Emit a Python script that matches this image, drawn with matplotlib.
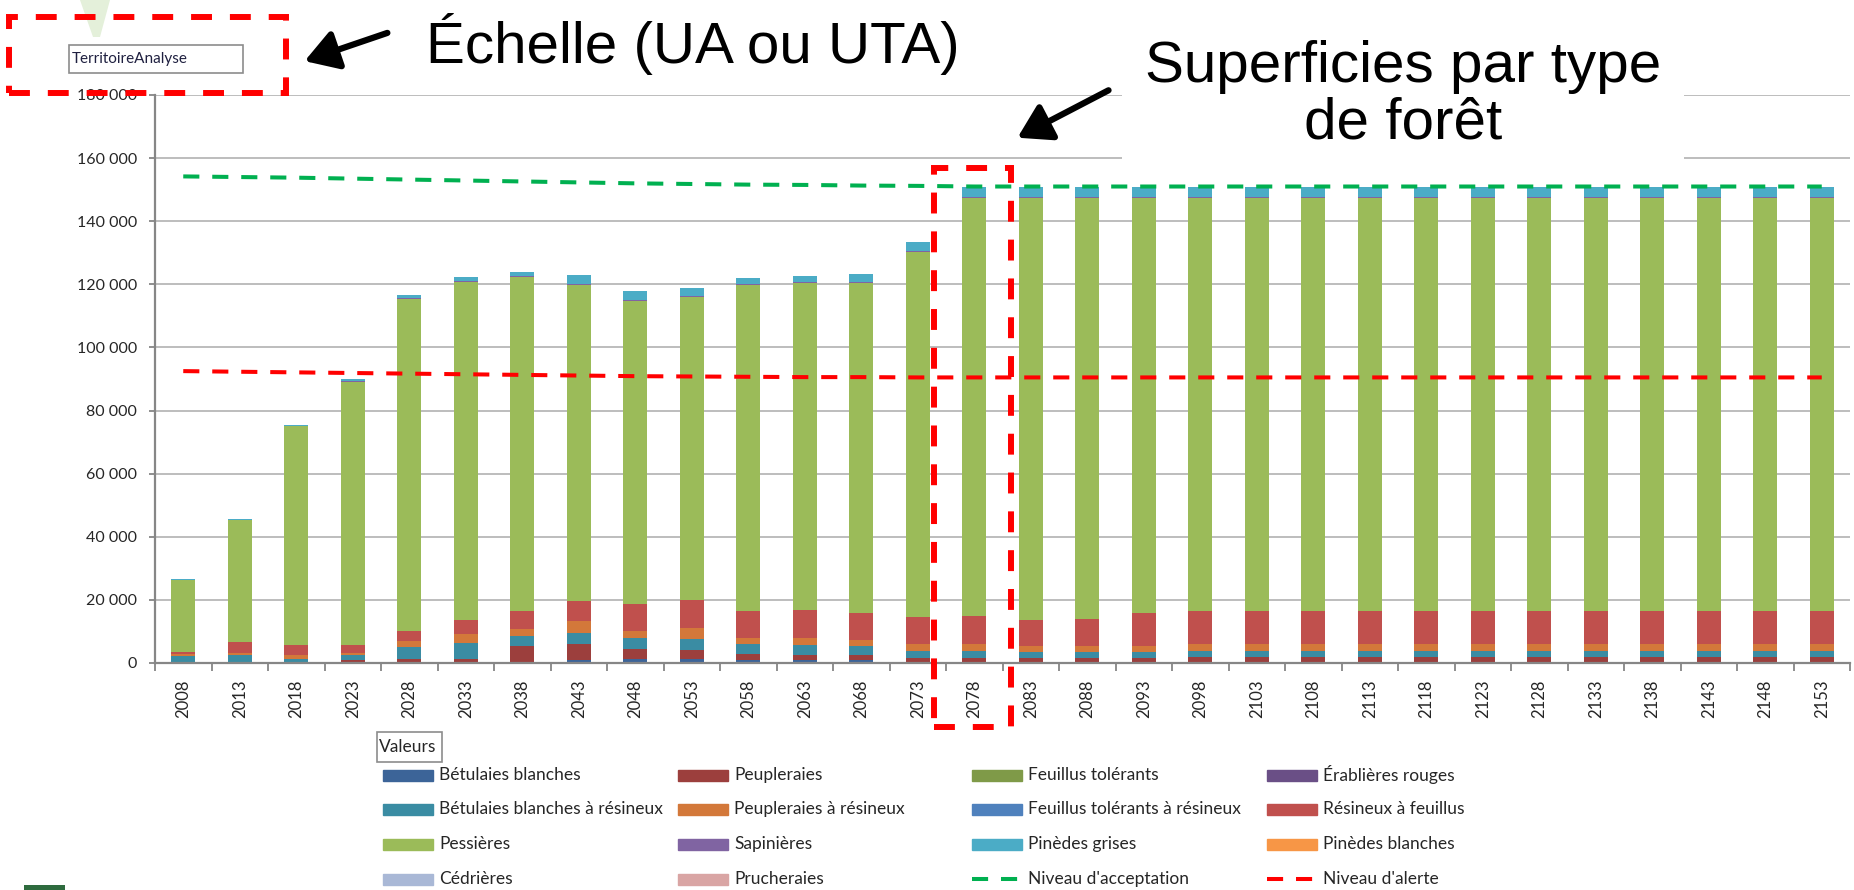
import numpy as np
import matplotlib
matplotlib.use("Agg")
import matplotlib.pyplot as plt
from matplotlib.patches import Rectangle, Polygon, FancyArrowPatch
from matplotlib.lines import Line2D

plt.rcParams['font.family'] = ['Lato', 'DejaVu Sans']

# --- data ---
years = ['2008', '2013', '2018', '2023', '2028', '2033', '2038', '2043', '2048', '2053',
         '2058', '2063', '2068', '2073', '2078', '2083', '2088', '2093', '2098', '2103',
         '2108', '2113', '2118', '2123', '2128', '2133', '2138', '2143', '2148', '2153']

betulaies_blanches = [0, 0, 0, 0, 0, 0, 0, 1000, 1300, 1300, 1000, 1000, 1000, 0, 0,
                      0, 0, 0, 0, 0, 0, 0, 0, 0, 0, 0, 0, 0, 0, 0]
peupleraies = [0, 0, 400, 800, 1300, 1300, 5500, 4900, 3200, 2900, 2000, 1600, 1500, 1600, 1600,
               1600, 1600, 1600, 1800, 1800, 1800, 1800, 1800, 1800, 1800, 1800, 1800, 1800, 1800, 1800]
feuillus_tolerants = [0] * 30
erablieres_rouges = [0] * 30
betulaies_resineux = [2300, 2500, 1000, 1600, 3900, 4900, 3200, 3500, 3400, 3500, 3000, 3200, 2800, 2300, 2300,
                      1800, 1800, 2000, 1900, 1900, 1900, 1900, 1900, 1900, 1900, 1900, 1900, 1900, 1900, 1900]
peupleraies_resineux = [600, 700, 1000, 800, 1800, 3000, 2200, 3800, 2100, 3300, 2000, 2200, 2100, 2100, 2100,
                        2100, 2100, 1900, 2300, 2300, 2300, 2300, 2300, 2300, 2300, 2300, 2300, 2300, 2300, 2300]
feuillus_tol_resineux = [0] * 30
resineux_feuillus = [500, 3300, 3400, 2400, 3000, 4500, 5600, 6500, 8800, 9100, 8600, 8900, 8500, 8600, 9000,
                     8100, 8600, 10400, 10500, 10500, 10500, 10500, 10500, 10500, 10500, 10500, 10500, 10500, 10500, 10500]
pessieres = [23000, 38700, 69200, 83400, 105300, 107100, 105700, 100200, 96000, 95800, 103200, 103400, 104600,
             115800, 132500, 133900, 133400, 131600, 131000, 131000, 131000, 131000, 131000, 131000, 131000,
             131000, 131000, 131000, 131000, 131000]
sapinieres = [0, 0, 200, 400, 400, 300, 300, 300, 300, 300, 300, 300, 300, 300, 300,
              300, 300, 300, 300, 300, 300, 300, 300, 300, 300, 300, 300, 300, 300, 300]
pinedes_grises = [200, 300, 300, 700, 1000, 1300, 1500, 2900, 2900, 2500, 2000, 2000, 2400, 2700, 2900,
                  2900, 2900, 2900, 2900, 2900, 2900, 2900, 2900, 2900, 2900, 2900, 2900, 2900, 2900, 2900]
pinedes_blanches = [0] * 30
cedrieres = [0] * 30
prucheraies = [0] * 30

niveau_acceptation = [154200, 154000, 153800, 153500, 153200, 152900, 152600, 152300, 152000, 151800,
                      151600, 151500, 151300, 151200, 151000, 151000, 151000, 151000, 151000, 151000,
                      151000, 151000, 151000, 151000, 151000, 151000, 151000, 151000, 151000, 151000]
niveau_alerte = [92500, 92300, 92100, 91900, 91700, 91500, 91300, 91100, 90900, 90800,
                 90700, 90600, 90600, 90500, 90500, 90500, 90500, 90500, 90500, 90500,
                 90500, 90500, 90500, 90500, 90500, 90500, 90500, 90500, 90500, 90500]

series = [
    ("Bétulaies blanches", betulaies_blanches, '#3C6498'),
    ("Peupleraies", peupleraies, '#9C3F3D'),
    ("Feuillus tolérants", feuillus_tolerants, '#7F9A48'),
    ("Érablières rouges", erablieres_rouges, '#6A4F86'),
    ("Bétulaies blanches à résineux", betulaies_resineux, '#3A8CA3'),
    ("Peupleraies à résineux", peupleraies_resineux, '#D3783A'),
    ("Feuillus tolérants à résineux", feuillus_tol_resineux, '#4F81BD'),
    ("Résineux à feuillus", resineux_feuillus, '#C0504D'),
    ("Pessières", pessieres, '#9BBB59'),
    ("Sapinières", sapinieres, '#8064A2'),
    ("Pinèdes grises", pinedes_grises, '#4BACC6'),
    ("Pinèdes blanches", pinedes_blanches, '#F79646'),
    ("Cédrières", cedrieres, '#A9B8D6'),
    ("Prucheraies", prucheraies, '#D9A5A4'),
]
lines = [
    ("Niveau d'acceptation", niveau_acceptation, '#00B050'),
    ("Niveau d'alerte", niveau_alerte, '#FF0000'),
]

W, H = 1854, 890
def fx(x):
    return x / W
def fy(y):
    return 1 - y / H

fig = plt.figure(figsize=(W / 100, H / 100), dpi=100)
ax = fig.add_axes([fx(155), fy(663), fx(1850) - fx(155), fy(95) - fy(663)])

x = np.arange(len(years))
bottom = np.zeros(len(years))
for name, vals, color in series:
    vals = np.array(vals, dtype=float)
    ax.bar(x, vals, 0.42, bottom=bottom, color=color, zorder=2)
    bottom += vals

dash_style = (4, 3.2)
for name, vals, color in lines:
    ax.plot(x, vals, color=color, lw=2.9, dashes=dash_style, zorder=3)

ax.set_xlim(-0.5, len(years) - 0.5)
ax.set_ylim(0, 180000)
ax.set_yticks(np.arange(0, 180001, 20000))
ax.set_yticklabels([f"{int(v):,}".replace(",", " ") for v in np.arange(0, 180001, 20000)])
ax.yaxis.grid(True, color='#B8B8B8', lw=1.3, zorder=0)
ax.set_axisbelow(True)

ax.set_xticks(x)
ax.set_xticklabels(years, rotation=90)
ax.set_xticks(np.arange(-0.5, len(years)), minor=True)
ax.tick_params(axis='x', which='major', length=0, pad=12, labelsize=12, labelcolor='#262626')
ax.tick_params(axis='x', which='minor', length=6, width=1.3, color='#868686', direction='out')
ax.tick_params(axis='y', length=4, width=1.3, color='#868686', pad=9, labelsize=11.5, labelcolor='#262626')

for s in ['top', 'right']:
    ax.spines[s].set_visible(False)
for s in ['left', 'bottom']:
    ax.spines[s].set_color('#868686')
    ax.spines[s].set_linewidth(1.6)

# legend drawn by hand, 4 columns like the Excel one
fig.add_artist(Rectangle((fx(377), fy(762)), fx(442) - fx(377), fy(732) - fy(762),
                         transform=fig.transFigure, fill=False, ec='#8C8C8C', lw=1.2))
fig.text(fx(379), fy(747), "Valeurs", fontsize=12.5, va='center', ha='left', color='#262626')

col_x = [383, 678, 972, 1267]
row_y = [775, 809, 844, 879]
entries = [(n, c, 'patch') for n, v, c in series] + [(n, c, 'line') for n, v, c in lines]
for i, (name, color, kind) in enumerate(entries):
    cx = col_x[i % 4]
    ry = row_y[i // 4]
    if kind == 'patch':
        fig.add_artist(Rectangle((fx(cx), fy(ry + 5.5)), fx(50), fy(0) - fy(11),
                                 transform=fig.transFigure, color=color))
    else:
        fig.add_artist(Line2D([fx(cx), fx(cx + 50)], [fy(ry), fy(ry)], transform=fig.transFigure,
                              color=color, lw=2.9, dashes=dash_style))
    fig.text(fx(cx + 56), fy(ry), name, fontsize=12.5, va='center', ha='left', color='#262626')

# slide annotations
red_dash = (0, (3.5, 3))
fig.add_artist(Polygon([(fx(80), fy(0)), (fx(110), fy(0)), (fx(100), fy(37)), (fx(93), fy(37))],
                       closed=True, transform=fig.transFigure, color='#E4F0DA', lw=0))
fig.add_artist(Rectangle((fx(69), fy(73)), fx(243) - fx(69), fy(45) - fy(73),
                         transform=fig.transFigure, fc='white', ec='#8C8C8C', lw=1.2))
fig.text(fx(72), fy(59), "TerritoireAnalyse", fontsize=11, va='center', ha='left', color='#1F2040')
fig.add_artist(Rectangle((fx(9), fy(93)), fx(286) - fx(9), fy(17) - fy(93),
                         transform=fig.transFigure, fill=False, ec='#FF0000', lw=4.3, ls=red_dash, zorder=10))
fig.add_artist(Rectangle((fx(934), fy(727)), fx(1011) - fx(934), fy(168) - fy(727),
                         transform=fig.transFigure, fill=False, ec='#FF0000', lw=4.3, ls=red_dash, zorder=10))

fig.text(fx(693), fy(44), "Échelle (UA ou UTA)", fontsize=42, ha='center', va='center',
         family=['Liberation Sans', 'DejaVu Sans'])
fig.text(fx(1403), fy(95), "Superficies par type\nde forêt", fontsize=42, ha='center', va='center',
         multialignment='center', linespacing=1.07, family=['Liberation Sans', 'DejaVu Sans'],
         bbox=dict(boxstyle='square,pad=0.4', fc='white', ec='none'), zorder=5)

for (x0, y0), (x1, y1) in [((390, 32), (302, 62)), ((1111, 89), (1015, 139))]:
    fig.add_artist(FancyArrowPatch((fx(x0), fy(y0)), (fx(x1), fy(y1)), transform=fig.transFigure,
                                   arrowstyle='-|>,head_length=0.9,head_width=0.55', mutation_scale=22,
                                   color='black', lw=4.5, zorder=11))

fig.add_artist(Rectangle((fx(24), fy(890)), fx(65) - fx(24), fy(885) - fy(890),
                         transform=fig.transFigure, color='#2E6B3E', lw=0))

fig.savefig("out.png", dpi=100)
